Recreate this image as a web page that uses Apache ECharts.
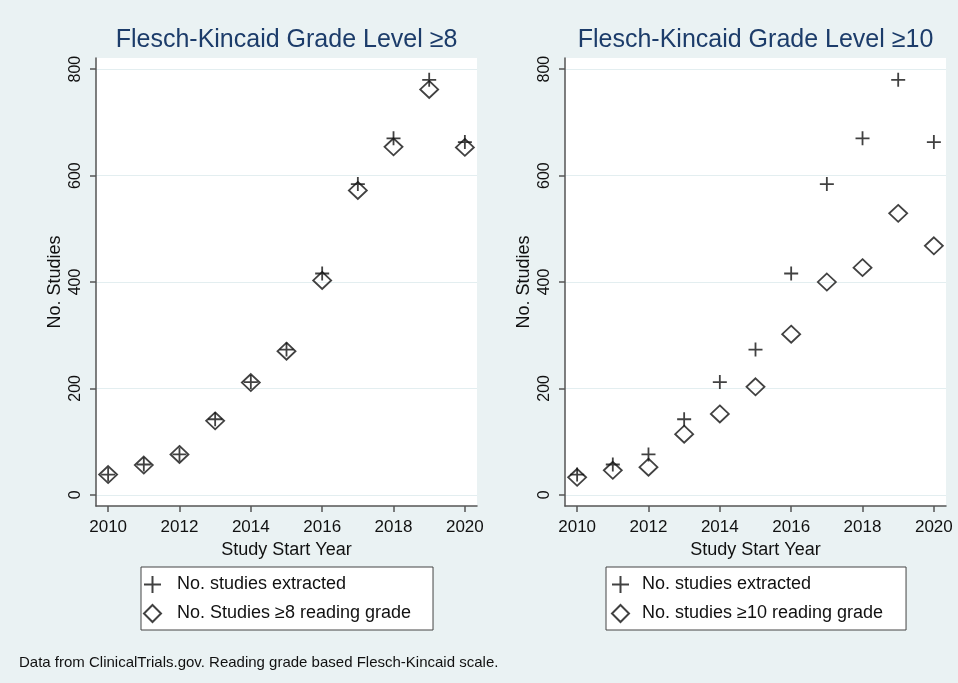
<!DOCTYPE html>
<html>
<head>
<meta charset="utf-8">
<script src="https://cdn.jsdelivr.net/npm/echarts@6/dist/echarts.min.js"></script>
<style>
html,body{margin:0;padding:0;background:#eaf2f3;}
#chart{width:958px;height:683px;}
</style>
</head>
<body>
<div id="chart"></div>
<script>
const years = [2010, 2011, 2012, 2013, 2014, 2015, 2016, 2017, 2018, 2019, 2020];
const extracted = [38, 57, 76, 142, 212, 273, 416, 584, 670, 780, 663];
const grade8 = [38, 56, 76, 139, 211, 270, 403, 572, 654, 762, 653];
const grade10 = [33, 46, 52, 114, 152, 203, 302, 400, 427, 529, 468];
const xTicks = [2010, 2012, 2014, 2016, 2018, 2020];
const yTicks = [0, 200, 400, 600, 800];
const titles = ['Flesch-Kincaid Grade Level \u22658', 'Flesch-Kincaid Grade Level \u226510'];
const nameExtracted = 'No. studies extracted';
const name8 = 'No. Studies \u22658 reading grade';
const name10 = 'No. studies \u226510 reading grade';
const footnote = 'Data from ClinicalTrials.gov. Reading grade based Flesch-Kincaid scale.';

const FONT = 'Liberation Sans, Arial, sans-serif';
const INK = '#111';
const AXIS = '#555';
const PLUS = 'path://M0,7H14M7,0V14';

const pairs = arr => years.map((y, i) => [y, arr[i]]);

const grids = [
  {left: 96, top: 58, width: 381, height: 448},
  {left: 565, top: 58, width: 381, height: 448}
];

function xAxis(i) {
  return {
    type: 'value', gridIndex: i, min: 2009.66, max: 2020.34,
    name: 'Study Start Year', nameLocation: 'middle', nameGap: 31,
    nameTextStyle: {fontSize: 18, color: INK, fontFamily: FONT},
    axisLine: {show: true, onZero: false, lineStyle: {color: AXIS, width: 1.5}},
    axisTick: {show: true, length: 6, lineStyle: {color: AXIS, width: 1.5}, customValues: xTicks},
    axisLabel: {fontSize: 17, color: INK, fontFamily: FONT, margin: 13, customValues: xTicks,
                formatter: v => String(v)},
    splitLine: {show: false}
  };
}
function yAxis(i) {
  return {
    type: 'value', gridIndex: i, min: -21, max: 821,
    name: 'No. Studies', nameLocation: 'middle', nameGap: 32,
    nameTextStyle: {fontSize: 18, color: INK, fontFamily: FONT},
    axisLine: {show: true, onZero: false, lineStyle: {color: AXIS, width: 1.5}},
    axisTick: {show: true, length: 6, lineStyle: {color: AXIS, width: 1.5}, customValues: yTicks},
    axisLabel: {fontSize: 16, color: INK, fontFamily: FONT, margin: 12, rotate: 90, customValues: yTicks,
                formatter: v => String(v)},
    splitLine: {show: true, lineStyle: {color: '#e3eef0', width: 1}}
  };
}
function plusSeries(i) {
  return {
    type: 'scatter', name: nameExtracted, xAxisIndex: i, yAxisIndex: i,
    symbol: PLUS, symbolSize: 14, z: 3,
    itemStyle: {color: 'rgba(0,0,0,0)', borderColor: INK, borderWidth: 1.8},
    data: pairs(extracted)
  };
}
function diamondSeries(i, name, arr) {
  return {
    type: 'scatter', name: name, xAxisIndex: i, yAxisIndex: i,
    symbol: 'diamond', symbolSize: [18, 17], z: 2,
    itemStyle: {color: 'rgba(0,0,0,0)', borderColor: INK, borderWidth: 1.8},
    data: pairs(arr)
  };
}
function legend(left, names, pad, textPad) {
  return {
    orient: 'vertical', left: left, top: 567,
    padding: pad, itemGap: 10, itemWidth: 17, itemHeight: 17,
    backgroundColor: '#fff', borderColor: '#444', borderWidth: 1,
    selectedMode: false,
    textStyle: {fontSize: 18, color: INK, fontFamily: FONT, padding: [0, 0, 0, textPad]},
    data: names
  };
}

const chart = echarts.init(document.getElementById('chart'), null, {renderer: 'canvas'});
chart.setOption({
  backgroundColor: '#eaf2f3',
  animation: false,
  textStyle: {fontFamily: FONT},
  title: [
    {text: titles[0], left: 286.5, top: 28, textAlign: 'center', padding: 0,
     textStyle: {fontSize: 25, fontWeight: 'normal', color: '#1c3c6a', fontFamily: FONT}},
    {text: titles[1], left: 755.5, top: 28, textAlign: 'center', padding: 0,
     textStyle: {fontSize: 25, fontWeight: 'normal', color: '#1c3c6a', fontFamily: FONT}},
    {text: footnote, left: 19, top: 655, padding: 0,
     textStyle: {fontSize: 15, fontWeight: 'normal', color: INK, fontFamily: FONT}}
  ],
  grid: grids.map(g => Object.assign({show: true, backgroundColor: '#fff', borderWidth: 0}, g)),
  xAxis: [xAxis(0), xAxis(1)],
  yAxis: [yAxis(0), yAxis(1)],
  legend: [
    legend(141, [nameExtracted, name8], [8, 22, 7, 2], 11),
    legend(606, [nameExtracted, name10], [8, 23, 7, 5], 8)
  ],
  series: [
    diamondSeries(0, name8, grade8),
    plusSeries(0),
    diamondSeries(1, name10, grade10),
    plusSeries(1)
  ]
});
</script>
</body>
</html>
